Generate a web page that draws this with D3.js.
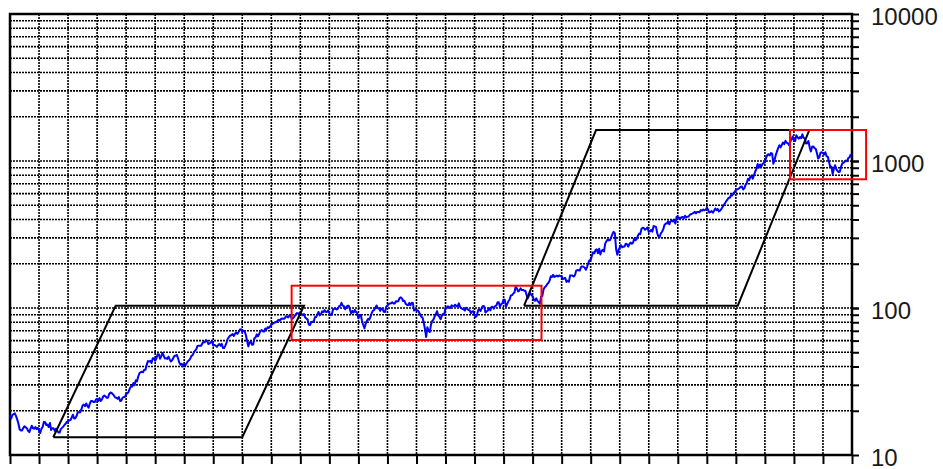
<!DOCTYPE html>
<html>
<head>
<meta charset="utf-8">
<script src="https://cdn.jsdelivr.net/npm/d3@7"></script>
<style>
  html, body { margin: 0; padding: 0; background: #fff; }
  svg { display: block; }
</style>
</head>
<body>
<svg id="chart" width="943" height="469"></svg>
<script>
// S&P 500 month-end closes, 1946-2003 (one row of 12 per year)
const startYear = 1946;
const endYear = 2004;
const monthlyCloses = [
  [18.7,17.7,18.7,19.0,19.2,18.4,17.4,16.3,14.9,14.7,14.7,15.3],
  [15.7,15.4,15.2,14.6,14.3,15.1,15.8,15.2,15.1,15.5,15.0,15.3],
  [14.7,14.1,15.1,15.5,16.8,16.7,16.0,16.1,15.5,16.5,14.8,15.2],
  [15.2,14.6,15.1,14.7,14.2,14.2,15.0,15.3,15.6,16.0,16.3,16.8],
  [17.0,17.2,17.3,18.0,18.8,17.7,17.8,18.4,19.5,19.5,19.5,20.4],
  [21.7,22.0,21.5,22.4,21.5,21.0,22.4,23.3,23.3,22.9,22.9,23.8],
  [24.1,23.3,24.4,23.3,23.9,25.0,25.4,25.0,24.5,24.5,26.0,26.6],
  [26.4,25.9,25.3,24.6,24.5,24.1,24.8,23.3,23.4,24.5,24.8,24.8],
  [26.1,26.2,26.9,28.3,29.2,29.2,30.9,29.8,32.3,31.7,34.2,36.0],
  [36.6,36.8,36.6,38.0,38.0,41.0,43.5,43.2,43.7,42.3,45.5,45.5],
  [43.8,45.3,48.5,48.4,45.2,47.0,49.4,47.5,45.4,45.6,45.1,46.7],
  [44.7,43.3,44.1,45.7,47.4,47.4,47.9,45.2,42.4,41.1,41.7,40.0],
  [41.7,40.8,42.1,43.4,44.1,45.2,47.2,47.8,50.1,51.3,52.5,55.2],
  [55.4,55.4,55.4,57.6,58.7,58.5,60.5,59.6,56.9,57.5,58.3,59.9],
  [55.6,56.1,55.3,54.4,55.8,56.9,55.5,57.0,53.5,53.4,55.5,58.1],
  [61.8,63.4,65.1,65.3,66.6,64.6,66.8,68.1,66.7,68.6,71.3,71.6],
  [68.8,70.0,69.6,65.2,59.6,54.8,58.2,59.1,56.3,56.5,62.3,63.1],
  [66.2,64.3,66.6,69.8,70.8,69.4,69.1,72.5,71.7,74.0,73.2,75.0],
  [77.0,77.8,79.0,79.5,80.4,81.7,83.2,81.8,84.2,84.9,84.4,84.8],
  [87.6,87.4,86.2,89.1,88.4,84.1,85.3,87.2,90.0,92.4,91.6,92.4],
  [92.9,91.2,89.2,91.1,86.1,84.7,83.6,77.1,76.6,80.2,80.5,80.3],
  [86.6,86.8,90.2,94.0,89.1,90.6,94.8,93.6,96.7,93.9,94.0,96.5],
  [92.2,89.4,90.2,97.6,98.7,99.6,97.7,98.9,102.7,103.4,108.4,103.9],
  [103.0,98.1,101.5,103.7,103.5,97.7,91.8,95.5,93.1,97.2,93.8,92.1],
  [85.0,89.5,89.6,81.5,76.6,72.7,78.1,81.5,84.3,83.3,87.2,92.2],
  [95.9,96.8,100.3,104.0,99.6,99.7,95.6,99.0,98.3,94.2,94.0,102.1],
  [103.9,106.6,107.2,107.7,109.5,107.1,107.4,111.1,110.6,111.6,116.7,118.1],
  [116.0,111.7,112.0,107.0,105.0,104.3,108.2,104.3,108.4,108.3,96.0,97.6],
  [96.6,96.2,94.0,90.3,87.3,86.0,79.3,72.2,63.5,73.9,70.0,68.6],
  [77.0,81.6,83.4,87.3,91.2,95.2,88.8,86.9,83.9,89.0,91.2,90.2],
  [100.9,99.7,102.8,101.6,100.2,104.3,103.4,102.9,105.2,102.9,102.1,107.5],
  [102.0,99.8,98.4,98.4,96.1,100.5,98.9,96.8,96.5,92.3,94.8,95.1],
  [89.3,87.0,89.2,96.8,97.3,95.5,100.7,103.3,102.5,93.2,94.7,96.1],
  [99.9,96.3,101.6,101.8,99.1,102.9,103.8,109.3,109.3,101.8,106.2,107.9],
  [114.2,113.7,102.1,106.3,111.2,114.2,121.7,122.4,125.5,127.5,140.5,135.8],
  [129.6,131.3,136.0,132.8,132.6,131.2,130.9,122.8,116.2,121.9,126.4,122.6],
  [120.4,113.1,112.0,116.4,111.9,109.6,107.1,119.5,120.4,133.7,138.5,140.6],
  [145.3,148.1,153.0,164.4,162.4,168.1,162.6,164.4,166.1,163.6,166.4,164.9],
  [163.4,157.1,159.2,160.1,150.6,153.2,150.7,166.7,166.1,166.1,163.6,167.2],
  [179.6,181.2,180.7,179.8,189.6,191.9,190.9,188.6,182.1,189.8,202.2,211.3],
  [211.8,226.9,238.9,235.5,247.4,250.8,236.1,252.9,231.3,244.0,249.2,242.2],
  [274.1,284.2,291.7,288.4,290.1,304.0,318.7,329.8,321.8,251.8,230.3,247.1],
  [257.1,267.8,258.9,261.3,262.2,273.5,272.0,261.5,271.9,279.0,273.7,277.7],
  [297.5,288.9,294.9,309.6,320.5,318.0,346.1,351.5,349.2,340.4,346.0,353.4],
  [329.1,331.9,339.9,330.8,361.2,358.0,356.2,322.6,306.1,304.0,322.2,330.2],
  [343.9,367.1,375.2,375.3,389.8,371.2,387.8,395.4,387.9,392.5,375.2,417.1],
  [408.8,412.7,403.7,415.0,415.4,408.1,424.2,414.0,417.8,418.7,431.4,435.7],
  [438.8,443.4,451.7,440.2,450.2,450.5,448.1,463.6,458.9,467.8,461.8,466.5],
  [481.6,467.1,445.8,450.9,456.5,444.3,458.3,475.5,462.7,472.4,453.7,459.3],
  [470.4,487.4,500.7,514.7,533.4,544.8,562.1,561.9,584.4,581.5,605.4,615.9],
  [636.0,640.4,645.5,654.2,669.1,670.6,640.0,652.0,687.3,705.3,757.0,740.7],
  [786.2,790.8,757.1,801.3,848.3,885.1,954.3,899.5,947.3,914.6,955.4,970.4],
  [980.3,1049.3,1101.8,1111.8,1090.8,1133.8,1120.7,957.3,1017.0,1098.7,1163.6,1229.2],
  [1279.6,1238.3,1286.4,1335.2,1301.8,1372.7,1328.7,1320.4,1282.7,1362.9,1388.9,1469.3],
  [1394.5,1366.4,1498.6,1452.4,1420.6,1454.6,1430.8,1517.7,1436.5,1429.4,1315.0,1320.3],
  [1366.0,1239.9,1160.3,1249.5,1256.0,1224.4,1211.2,1133.6,1040.9,1059.8,1139.5,1148.1],
  [1130.2,1106.7,1147.4,1076.9,1067.1,989.8,911.6,916.1,815.3,885.8,936.3,879.8],
  [855.7,841.2,848.2,916.9,963.6,974.5,990.3,1008.0,996.0,1050.7,1058.2,1111.9]
];

// Axis ticks
const xTickYears = d3.range(startYear, endYear + 1, 2);
const yLabelValues = [10, 100, 1000, 10000];
const yLabelText = ["10", "100", "1000", "10000"];
const yGridValues = [20,30,40,50,60,70,80,90,100,200,300,400,500,600,700,800,900,1000,2000,3000,4000,5000,6000,7000,8000,9000];

// Overlay shapes: [year, value] corners
const risePanelA = [[1948.98, 13.2], [1953.28, 103.7], [1966.25, 103.7], [1962.0, 13.2]];
const risePanelB = [[1981.41, 103.7], [1986.37, 1625], [2001.06, 1625], [1996.13, 103.7]];
// Boxes: [yearFrom, yearTo, valueLow, valueHigh]
const boxA = [1965.4, 1982.61, 60.6, 141.8];
const boxB = [1999.73, 2004.97, 751, 1625];

const svg = d3.select("#chart");
const plotL = 10, plotR = 852, plotT = 14, plotB = 455;

const x = d3.scaleLinear().domain([startYear, endYear]).range([plotL, plotR]);
const y = d3.scaleLog().domain([10, 10000]).range([plotB, plotT]);

// flatten monthly closes into points
const series = [];
monthlyCloses.forEach((row, i) => {
  row.forEach((v, m) => series.push({ t: startYear + i + m / 12, v }));
});

// dotted grid
const grid = svg.append("g").attr("stroke", "#000").attr("stroke-width", 1.6)
  .attr("stroke-dasharray", "2,1");
grid.selectAll("line.v").data(xTickYears.slice(1, -1)).join("line")
  .attr("class", "v")
  .attr("x1", d => x(d)).attr("x2", d => x(d))
  .attr("y1", plotT).attr("y2", plotB);
grid.selectAll("line.h").data(yGridValues).join("line")
  .attr("class", "h")
  .attr("x1", plotL).attr("x2", plotR)
  .attr("y1", d => y(d)).attr("y2", d => y(d));

// bottom axis: ticks pointing down, no labels
const xAxis = d3.axisBottom(x).tickValues(xTickYears).tickSize(9).tickFormat("");
const gx = svg.append("g").attr("transform", `translate(0,${plotB})`).call(xAxis);
gx.select(".domain").remove();
gx.selectAll(".tick line").attr("stroke", "#000").attr("stroke-width", 2);

// right axis: ticks pointing out, labels at decades
const yTicks = yGridValues.concat(yLabelValues);
const yAxis = d3.axisRight(y).tickValues(yTicks).tickSize(7).tickFormat("");
const gy = svg.append("g").attr("transform", `translate(${plotR},0)`).call(yAxis);
gy.select(".domain").remove();
gy.selectAll(".tick line").attr("stroke", "#000").attr("stroke-width", 2);

svg.append("g").selectAll("text").data(yLabelValues).join("text")
  .attr("x", 871).attr("y", d => y(d) + 10.5)
  .attr("font-family", "Liberation Sans, Arial, sans-serif")
  .attr("font-size", 24).attr("fill", "#1a1a1a")
  .text((d, i) => yLabelText[i]);

// plot frame
svg.append("rect")
  .attr("x", plotL).attr("y", plotT)
  .attr("width", plotR - plotL).attr("height", plotB - plotT)
  .attr("fill", "none").attr("stroke", "#000").attr("stroke-width", 2.5);

// index line
const line = d3.line().x(d => x(d.t)).y(d => y(d.v));
svg.append("path").datum(series)
  .attr("d", line).attr("fill", "none")
  .attr("stroke", "#0000ff").attr("stroke-width", 2).attr("stroke-linejoin", "round");

// rising-phase parallelograms
const poly = d3.line().x(d => x(d[0])).y(d => y(d[1]));
[risePanelA, risePanelB].forEach(p => {
  svg.append("path").datum(p.concat([p[0]]))
    .attr("d", poly).attr("fill", "none")
    .attr("stroke", "#000").attr("stroke-width", 2);
});

// sideways-phase boxes
[boxA, boxB].forEach(b => {
  svg.append("rect")
    .attr("x", x(b[0])).attr("y", y(b[3]))
    .attr("width", x(b[1]) - x(b[0])).attr("height", y(b[2]) - y(b[3]))
    .attr("fill", "none").attr("stroke", "#ff0000").attr("stroke-width", 2);
});
</script>
</body>
</html>
